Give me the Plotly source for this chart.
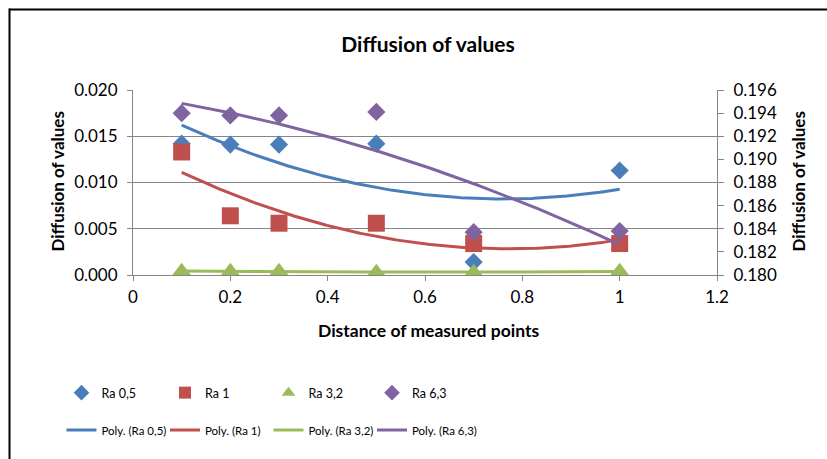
import numpy as np
import plotly.graph_objects as go

x_points = [0.1, 0.2, 0.3, 0.5, 0.7, 1.0]
ra_05 = [0.0142, 0.0141, 0.0141, 0.0142, 0.0014, 0.0113]
ra_1 = [0.0133, 0.0064, 0.0056, 0.0056, 0.0034, 0.0034]
ra_32 = [0.0004, 0.0004, 0.0004, 0.0003, 0.0003, 0.0004]
ra_63 = [0.1940, 0.1938, 0.1938, 0.1941, 0.1837, 0.1838]  # secondary axis

names = ["Ra 0,5", "Ra 1", "Ra 3,2", "Ra 6,3"]
colors = ["#4A7EBB", "#C0504D", "#9BBB59", "#8064A2"]
symbols = ["diamond", "square", "triangle-up", "diamond"]
sizes = [14, 17, 17, 14]
series = [ra_05, ra_1, ra_32, ra_63]
axes = ["y", "y", "y", "y2"]

title_text = "Diffusion of values"
x_title = "Distance of measured points"
y_title = "Diffusion of values"

FONT = "Lato"

fig = go.Figure()
legends = {}

for i, (name, c, sym, sz, ys, ax) in enumerate(zip(names, colors, symbols, sizes, series, axes)):
    lg = "legend" if i == 0 else f"legend{i + 1}"
    fig.add_trace(go.Scatter(
        x=x_points, y=ys, mode="markers", name=name, yaxis=ax,
        marker=dict(color=c, symbol=sym, size=sz, line=dict(width=0)),
        legend=lg,
    ))
    legends[lg] = dict(xref="container", yref="container",
                       x=(61.5 + 103.5 * i) / 827, y=1 - 393 / 459,
                       xanchor="left", yanchor="middle", itemsizing="constant",
                       font=dict(size=12.5), bgcolor="rgba(0,0,0,0)")

xs = np.linspace(min(x_points), max(x_points), 200)
for i, (name, c, ys, ax) in enumerate(zip(names, colors, series, axes)):
    lg = f"legend{i + 5}"
    coef = np.polyfit(x_points, ys, 2)
    fig.add_trace(go.Scatter(
        x=xs, y=np.polyval(coef, xs), mode="lines", name=f"Poly. ({name})", yaxis=ax,
        line=dict(color=c, width=3), legend=lg,
    ))
    legends[lg] = dict(xref="container", yref="container",
                       x=(61.5 + 103.5 * i) / 827, y=1 - 430 / 459,
                       xanchor="left", yanchor="middle",
                       font=dict(size=11.5), bgcolor="rgba(0,0,0,0)")

fig.update_layout(
    width=827, height=459,
    margin=dict(l=133, r=110, t=90, b=184, autoexpand=False),
    paper_bgcolor="white", plot_bgcolor="white",
    font=dict(family=FONT, size=17, color="black"),
    title=dict(text=f"<b>{title_text}</b>", x=428 / 827, xanchor="center",
               y=1 - 45 / 459, yanchor="middle", font=dict(size=21)),
    xaxis=dict(range=[0, 1.2], dtick=0.2, tick0=0, showgrid=False, zeroline=False,
               showline=True, linecolor="#868686", linewidth=1,
               ticks="outside", ticklen=5, tickcolor="#868686",
               ticklabelstandoff=2, automargin=False),
    yaxis=dict(range=[0, 0.02], dtick=0.005, tickformat=".3f", showgrid=True,
               gridcolor="#868686", gridwidth=1, zeroline=False,
               showline=True, linecolor="#868686", linewidth=1,
               ticks="outside", ticklen=5, tickcolor="#868686",
               ticklabelstandoff=6, automargin=False),
    yaxis2=dict(range=[0.18, 0.196], dtick=0.002, tickformat=".3f", overlaying="y",
                side="right", showgrid=False, zeroline=False,
                showline=True, linecolor="#868686", linewidth=1,
                ticks="outside", ticklen=6, tickcolor="#868686",
                ticklabelstandoff=6, automargin=False),
    annotations=[
        dict(text=f"<b>{x_title}</b>", xref="paper", yref="paper",
             x=(428.5 - 133) / 584, y=-(330 - 275) / 185, xanchor="center", yanchor="middle",
             showarrow=False, font=dict(size=17.5)),
        dict(text=f"<b>{y_title}</b>", xref="paper", yref="paper", textangle=-90,
             x=-(133 - 57) / 584, y=0.5 + (182.5 - 181.5) / 185, xanchor="center", yanchor="middle",
             showarrow=False, font=dict(size=17)),
        dict(text=f"<b>{y_title}</b>", xref="paper", yref="paper", textangle=-90,
             x=1 + (798 - 717) / 584, y=0.5 + (182.5 - 181.5) / 185, xanchor="center", yanchor="middle",
             showarrow=False, font=dict(size=17)),
    ],
    shapes=[
        dict(type="line", xref="paper", yref="paper",
             x0=-124 / 584, x1=(827 - 133) / 584, y0=1 + 80.5 / 185, y1=1 + 80.5 / 185,
             line=dict(color="black", width=2)),
        dict(type="line", xref="paper", yref="paper",
             x0=-123.5 / 584, x1=-123.5 / 584, y0=1 + 81.5 / 185, y1=-184 / 185,
             line=dict(color="black", width=2)),
    ],
    showlegend=True,
    **legends,
)

fig.write_html("out.html")
